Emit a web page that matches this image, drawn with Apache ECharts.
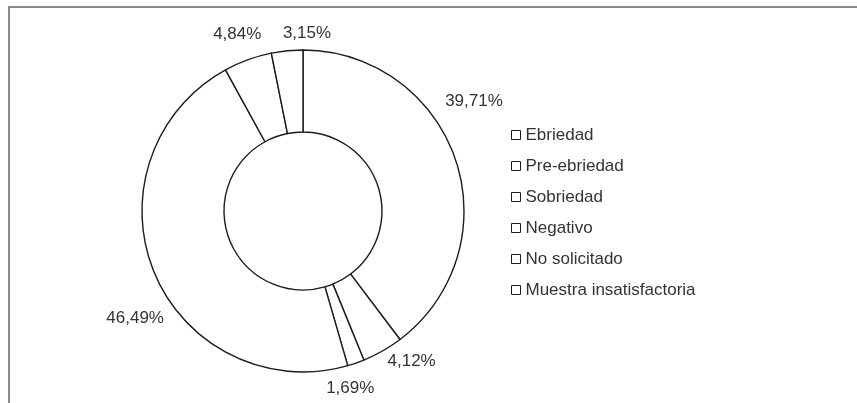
<!DOCTYPE html>
<html>
<head>
<meta charset="utf-8">
<script src="https://cdn.jsdelivr.net/npm/echarts@6/dist/echarts.min.js"></script>
<style>
  html, body { margin: 0; padding: 0; background: #fff; }
  #chart { width: 857px; height: 403px; }
</style>
</head>
<body>
<div id="chart"></div>
<script>
// Resultados de alcoholemia (porcentaje de casos)
const categories = ['Ebriedad', 'Pre-ebriedad', 'Sobriedad', 'Negativo', 'No solicitado', 'Muestra insatisfactoria'];
const percentages = [39.71, 4.12, 1.69, 46.49, 4.84, 3.15];

// Small per-label nudges (pixels) applied after the default outside placement
const labelNudge = [[-25, -55], [-5, 2], [-38, 16], [24, 42], [22, -16], [50, -8]];

const FONT = '"Liberation Sans", Arial, sans-serif';
const INK = '#1c1c1c';

const chart = echarts.init(document.getElementById('chart'), null, { renderer: 'canvas' });

chart.setOption({
  backgroundColor: '#ffffff',
  animation: false,
  graphic: [{
    type: 'rect',
    shape: { x: 9, y: 7, width: 900, height: 450 },
    style: { fill: 'none', stroke: '#8a8a8a', lineWidth: 2 },
    silent: true
  }],
  legend: {
    orient: 'vertical',
    left: 506,
    top: 121,
    icon: 'rect',
    itemWidth: 9,
    itemHeight: 9,
    itemGap: 13,
    textStyle: { fontFamily: FONT, fontSize: 17, color: '#333', lineHeight: 18 },
    itemStyle: { color: '#fff', borderColor: INK, borderWidth: 1 },
    data: categories
  },
  series: [{
    type: 'pie',
    center: [303, 211],
    radius: [79, 161],
    startAngle: 90,
    clockwise: true,
    avoidLabelOverlap: false,
    itemStyle: { color: '#ffffff', borderColor: INK, borderWidth: 1.4 },
    emphasis: { disabled: true },
    label: {
      show: true,
      position: 'outside',
      fontFamily: FONT,
      fontSize: 17,
      color: '#333',
      formatter: p => p.value.toFixed(2).replace('.', ',') + '%'
    },
    labelLine: { show: false, length: 10, length2: 0 },
    labelLayout: p => ({ dx: labelNudge[p.dataIndex][0], dy: labelNudge[p.dataIndex][1] }),
    data: categories.map((name, i) => ({ name, value: percentages[i] }))
  }]
});
</script>
</body>
</html>
